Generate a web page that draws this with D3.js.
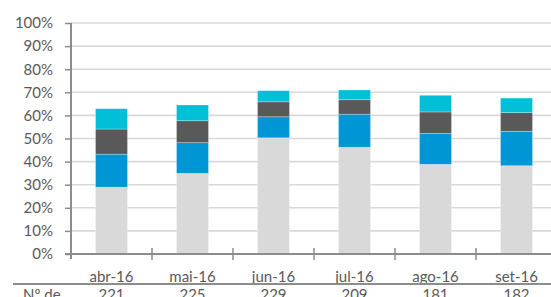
<!DOCTYPE html>
<html><head><meta charset="utf-8">
<script src="https://cdn.jsdelivr.net/npm/d3@7"></script>
<style>body{margin:0;background:#fff;overflow:hidden}svg{display:block}</style>
</head><body>
<svg id="c" width="551" height="297"></svg>
<script>
const categories = ["abr-16","mai-16","jun-16","jul-16","ago-16","set-16"];
const seriesGray  = [28.9, 34.9, 50.3, 46.2, 38.8, 38.2];
const seriesBlue  = [14.3, 13.3,  9.1, 14.3, 13.4, 14.9];
const seriesDark  = [10.9,  9.5,  6.5,  6.3,  9.3,  8.1];
const seriesCyan  = [ 8.8,  6.8,  4.8,  4.2,  7.2,  6.3];
const tableLabel = "Nº de";
const tableValues = ["221","225","229","209","181","182"];
const yTicks = [0,10,20,30,40,50,60,70,80,90,100];

const colors = ["#d9d9d9","#0096d6","#595959","#00bfd6"];
const seriesList = [seriesGray, seriesBlue, seriesDark, seriesCyan];
const rows = categories.map((c,i)=>({cat:c, s0:seriesGray[i], s1:seriesBlue[i], s2:seriesDark[i], s3:seriesCyan[i]}));
const stack = d3.stack().keys(["s0","s1","s2","s3"])(rows);

const svg = d3.select("#c");
const x0 = 71, x1 = 557, yTop = 23, yBot = 254;
const x = d3.scaleBand().domain(categories).range([x0,x1]).padding(0);
const y = d3.scaleLinear().domain([0,100]).range([yBot,yTop]);
const font = "Lato, 'Open Sans', sans-serif";
const txt = "#595959", axisCol = "#8c8c8c";

// gridlines
svg.append("g").selectAll("line").data(yTicks.filter(t=>t>0)).join("line")
  .attr("x1",x0).attr("x2",551).attr("y1",d=>y(d)).attr("y2",d=>y(d))
  .attr("stroke","#d9d9d9").attr("stroke-width",1.6);

// bars
const bw = x.bandwidth()*0.395;
svg.append("g").selectAll("g").data(stack).join("g")
  .attr("fill",(d,i)=>colors[i])
  .selectAll("rect").data(d=>d).join("rect")
  .attr("x",d=>x(d.data.cat)+x.bandwidth()/2-bw/2)
  .attr("width",bw)
  .attr("y",d=>y(d[1]))
  .attr("height",d=>y(d[0])-y(d[1]))
  .attr("stroke","rgba(255,255,255,0.35)").attr("stroke-width",0.8);

// y axis
const ya = svg.append("g").attr("transform",`translate(${x0},0)`)
  .call(d3.axisLeft(y).tickValues(yTicks).tickFormat(d=>d+"%").tickSize(6).tickPadding(12));
ya.select(".domain").attr("stroke",axisCol).attr("stroke-width",2).attr("d",`M0,${yTop}V${yBot+5}`);
ya.selectAll(".tick line").attr("stroke",axisCol).attr("stroke-width",1.5);
ya.selectAll("text").attr("fill",txt).style("font-family",font).style("font-size","15px");

// x axis
svg.append("line").attr("x1",x0-6).attr("x2",551).attr("y1",yBot).attr("y2",yBot)
  .attr("stroke",axisCol).attr("stroke-width",2);
svg.append("g").selectAll("line").data(categories.slice(1)).join("line")
  .attr("x1",d=>x(d)).attr("x2",d=>x(d)).attr("y1",yBot-6).attr("y2",yBot+6)
  .attr("stroke",axisCol).attr("stroke-width",1.5);
svg.append("g").selectAll("text").data(categories).join("text")
  .attr("x",d=>x(d)+x.bandwidth()/2).attr("y",282)
  .attr("text-anchor","middle").attr("fill",txt)
  .style("font-family",font).style("font-size","15px").text(d=>d);

// data table
svg.append("line").attr("x1",13).attr("x2",551).attr("y1",284).attr("y2",284)
  .attr("stroke",axisCol).attr("stroke-width",2);
svg.append("text").attr("x",23).attr("y",300).attr("fill",txt)
  .style("font-family",font).style("font-size","15px").text(tableLabel);
svg.append("g").selectAll("text").data(tableValues).join("text")
  .attr("x",(d,i)=>x(categories[i])+x.bandwidth()/2).attr("y",300)
  .attr("text-anchor","middle").attr("fill",txt)
  .style("font-family",font).style("font-size","15px").text(d=>d);
</script>
</body></html>
